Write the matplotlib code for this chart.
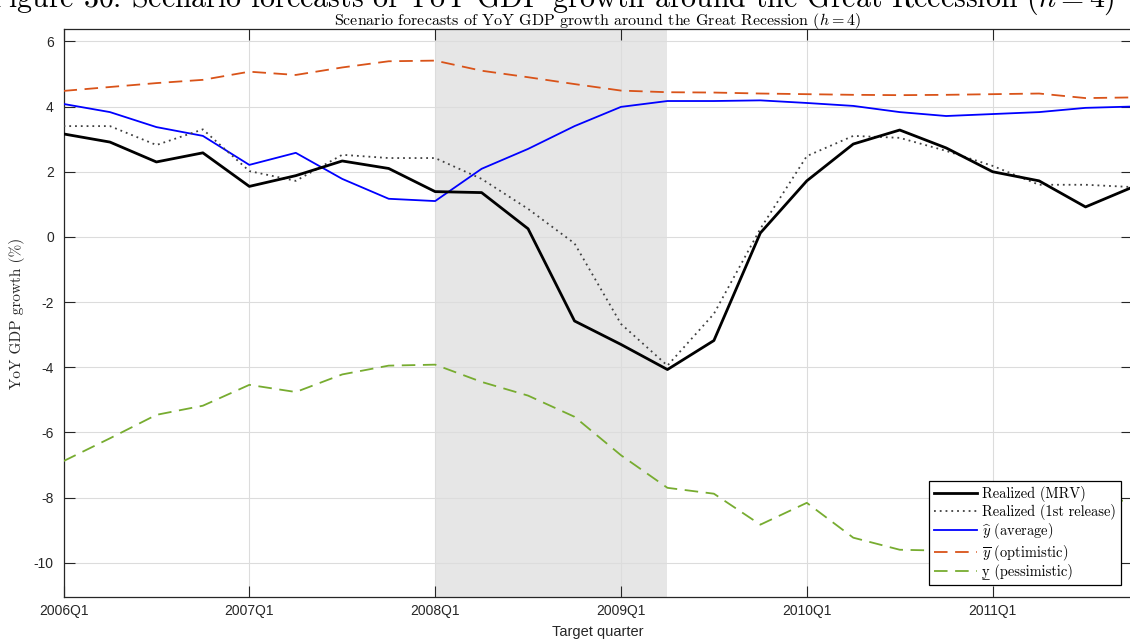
import matplotlib
matplotlib.use("Agg")
import matplotlib.pyplot as plt
import numpy as np

# ---------------- data ----------------
quarters = [f"{y}Q{q}" for y in range(2006, 2012) for q in range(1, 5)]
tick_labels = ["2006Q1", "2007Q1", "2008Q1", "2009Q1", "2010Q1", "2011Q1"]

realized_mrv = [3.16, 2.91, 2.30, 2.58, 1.55, 1.88, 2.33, 2.10, 1.39, 1.36, 0.25, -2.58,
                -3.30, -4.07, -3.18, 0.12, 1.72, 2.85, 3.28, 2.73, 2.00, 1.72, 0.92, 1.52]
realized_first = [3.40, 3.40, 2.82, 3.30, 2.02, 1.72, 2.52, 2.42, 2.42, 1.78, 0.86, -0.20,
                  -2.67, -3.95, -2.36, 0.25, 2.48, 3.10, 3.04, 2.64, 2.18, 1.60, 1.60, 1.53]
forecast_avg = [4.08, 3.83, 3.37, 3.10, 2.21, 2.58, 1.78, 1.17, 1.10, 2.09, 2.70, 3.40,
                3.99, 4.17, 4.17, 4.19, 4.11, 4.02, 3.83, 3.71, 3.77, 3.83, 3.96, 4.00]
forecast_opt = [4.48, 4.60, 4.72, 4.82, 5.07, 4.97, 5.20, 5.39, 5.41, 5.10, 4.90, 4.69,
                4.49, 4.44, 4.43, 4.40, 4.38, 4.36, 4.35, 4.36, 4.38, 4.40, 4.26, 4.28]
forecast_pess = [-6.88, -6.18, -5.46, -5.18, -4.54, -4.76, -4.22, -3.95, -3.92, -4.45, -4.87, -5.52,
                 -6.70, -7.70, -7.88, -8.83, -8.16, -9.23, -9.60, -9.63, -9.50, -8.80, -8.00, -8.12]
recession_start, recession_end = "2008Q1", "2009Q2"

# ---------------- style ----------------
plt.rcParams["axes.unicode_minus"] = False
plt.rcParams["mathtext.fontset"] = "cm"
serif = ["cmr10", "DejaVu Serif"]
sans = ["Liberation Sans", "DejaVu Sans"]

fig = plt.figure(figsize=(11.30, 6.44), dpi=100)
ax = fig.add_axes([63.5 / 1130, 47 / 644, (1132 - 63.5) / 1130, 568 / 644])

x = np.arange(len(quarters))
ax.axvspan(quarters.index(recession_start), quarters.index(recession_end),
           color="#e6e6e6", zorder=0.1, lw=0)

ax.plot(x, realized_mrv, color="black", lw=2.0, label="Realized (MRV)", zorder=5)
ax.plot(x, realized_first, color="#404040", lw=1.3, ls=(0, (1, 2.2)),
        label="Realized (1st release)", zorder=4)
ax.plot(x, forecast_avg, color="#0000ff", lw=1.3, label=r"$\widehat{y}$ (average)", zorder=3)
ax.plot(x, forecast_opt, color="#D95319", lw=1.3, dashes=(7.5, 4.2),
        label=r"$\overline{y}$ (optimistic)", zorder=3)
ax.plot(x, forecast_pess, color="#77AC30", lw=1.3, dashes=(7.5, 4.2),
        label="y\u0332 (pessimistic)", zorder=3)

ax.set_xlim(0, len(quarters) - 1)
ax.set_ylim(-11.05, 6.38)
ax.set_xticks([quarters.index(t) for t in tick_labels])
ax.set_xticklabels(tick_labels)
ax.set_yticks(np.arange(-10, 7, 2))

ax.set_axisbelow(True)
ax.grid(True, color="#dcdcdc", lw=0.8, zorder=0.5)
ax.tick_params(direction="in", length=8, width=0.8, color="#262626",
               top=True, right=True, labelsize=10, labelcolor="#262626", pad=7)
ax.tick_params(axis="x", pad=5)
for lab in ax.get_xticklabels() + ax.get_yticklabels():
    lab.set_family(sans)
for s in ax.spines.values():
    s.set_color("#262626")
    s.set_linewidth(0.9)

ax.set_xlabel("Target quarter", family=sans, fontsize=10.5, color="#262626", labelpad=5)
ax.set_ylabel("YoY GDP growth (%)", family=serif, fontsize=11, color="#262626", labelpad=6)
ax.set_title(r"Scenario forecasts of YoY GDP growth around the Great Recession ($h = 4$)",
             family=serif, fontsize=11.5, pad=3)

fig.text(1115 / 1130, 1 - 7 / 644,
         r"Figure 30: Scenario forecasts of YoY GDP growth around the Great Recession ($h = 4$)",
         family=serif, fontsize=21.5, ha="right", va="baseline", color="black")

leg = ax.legend(loc="lower right", bbox_to_anchor=(0.9897, 0.021), borderaxespad=0,
                prop={"family": serif, "size": 10.4}, fancybox=False, framealpha=1,
                edgecolor="black", handlelength=3.0, handletextpad=0.35,
                borderpad=0.35, labelspacing=0.1)
leg.get_frame().set_linewidth(0.9)

fig.savefig("out.png", dpi=100)
